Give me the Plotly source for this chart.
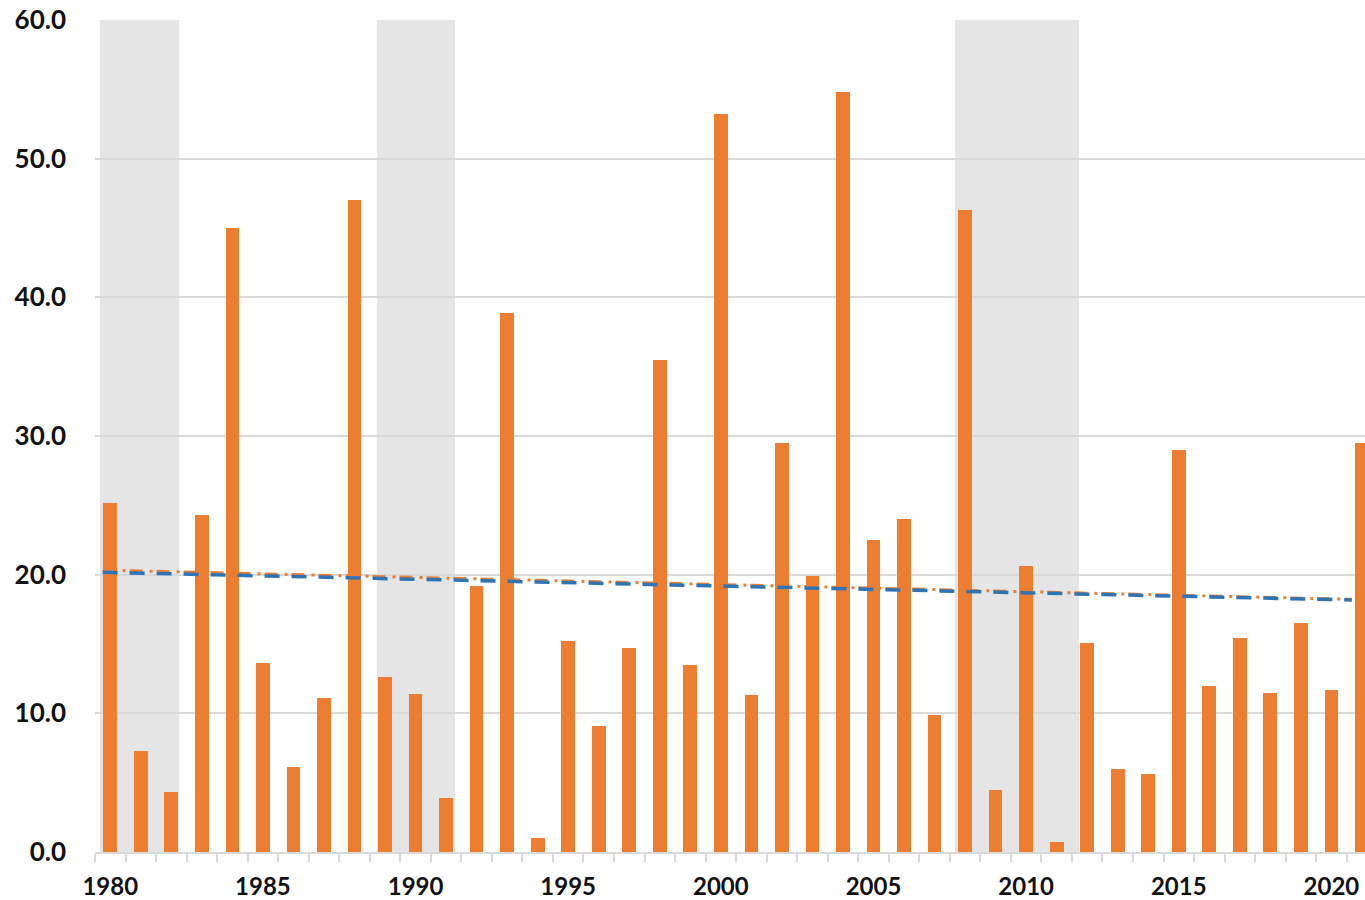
import plotly.graph_objects as go

# Annual values, 1980-2021
years = list(range(1980, 2022))
values = [
    25.2, 7.3, 4.3, 24.3, 45.0, 13.6, 6.1, 11.1, 47.0, 12.6,
    11.4, 3.9, 19.2, 38.9, 1.0, 15.2, 9.1, 14.7, 35.5, 13.5,
    53.2, 11.3, 29.5, 19.9, 54.8, 22.5, 24.0, 9.9, 46.3, 4.5,
    20.6, 0.7, 15.1, 6.0, 5.6, 29.0, 12.0, 15.4, 11.5, 16.5,
    11.7, 29.5,
]

# Shaded periods (start, end in fractional years)
band_start = [1979.66, 1988.73, 2007.67]
band_end = [1982.25, 1991.29, 2011.73]

# Linear trend lines (endpoints)
trend_x = [1979.75, 2020.67]
trend_orange = [20.33, 18.22]
trend_blue = [20.17, 18.17]

label_years = [1980, 1985, 1990, 1995, 2000, 2005, 2010, 2015, 2020]
y_ticks = [0, 10, 20, 30, 40, 50, 60]

ORANGE = "#ED7D31"
BLUE = "#2E75B6"
GRID = "#d9d9d9"
FAMILY = "Lato, 'Open Sans', sans-serif"
TEXT = "#111111"

fig = go.Figure()

fig.add_trace(go.Bar(
    x=years, y=values, width=0.45,
    marker=dict(color=ORANGE, line=dict(width=0)),
    hoverinfo="x+y",
))

fig.add_trace(go.Scatter(
    x=trend_x, y=trend_orange, mode="lines",
    line=dict(color=ORANGE, width=3, dash="13px,7px,3px,4px"),
))

fig.add_trace(go.Scatter(
    x=trend_x, y=trend_blue, mode="lines",
    line=dict(color=BLUE, width=3.5, dash="15px,12px"),
))

for s, e in zip(band_start, band_end):
    fig.add_shape(
        type="rect", xref="x", yref="y",
        x0=s, x1=e, y0=0, y1=60,
        fillcolor="#e5e5e5", line=dict(width=0), layer="below",
    )

fig.update_layout(
    width=1365, height=900,
    margin=dict(l=95, r=0, t=20, b=48),
    paper_bgcolor="white", plot_bgcolor="white",
    showlegend=False,
    bargap=0,
    font=dict(family=FAMILY, color=TEXT),
)

fig.update_xaxes(
    range=[1979.5, 2021.1],
    automargin=False,
    tickmode="array", tickvals=label_years,
    ticktext=[str(y) for y in label_years],
    ticks="", showgrid=False, zeroline=False,
    showline=True, linecolor=GRID, linewidth=2,
    tickfont=dict(family=FAMILY, size=24, color=TEXT, weight="bold"),
    ticklabelstandoff=12,
    minor=dict(ticks="outside", tickmode="linear", tick0=1979.5, dtick=1,
               ticklen=8, tickwidth=2, tickcolor=GRID, showgrid=False),
)

fig.update_yaxes(
    range=[0, 60],
    automargin=False,
    tickmode="array", tickvals=y_ticks, tickformat=".1f",
    showgrid=True, gridcolor=GRID, gridwidth=2,
    zeroline=False, showline=False, ticks="",
    tickfont=dict(family=FAMILY, size=26, color=TEXT, weight="bold"),
    ticklabelstandoff=28,
)

fig.write_html("out.html")
